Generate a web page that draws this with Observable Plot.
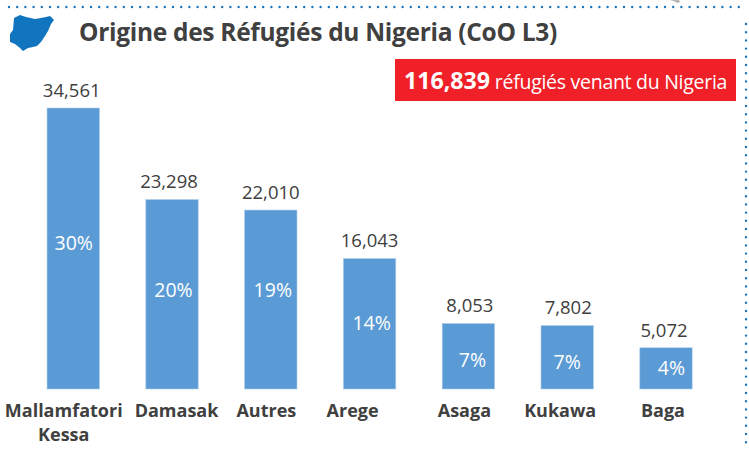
<!DOCTYPE html>
<html lang="fr">
<head>
<meta charset="utf-8">
<script src="https://cdn.jsdelivr.net/npm/d3@7"></script>
<script src="https://cdn.jsdelivr.net/npm/@observablehq/plot@0.6"></script>
<style>
  html, body { margin: 0; padding: 0; background: #fff; }
  #wrap { position: relative; width: 749px; height: 450px; overflow: hidden; font-family: "Open Sans", sans-serif; }
  #title { position: absolute; left: 79px; top: 15px; font-size: 24.5px; font-weight: 700; color: #404040; white-space: nowrap; letter-spacing: -0.3px; }
  #badge { position: absolute; left: 395px; top: 59px; width: 341px; height: 42px; background: #ef2027; color: #fff; font-size: 19.5px; line-height: 42px; text-align: center; white-space: nowrap; letter-spacing: -0.28px; }
  #badge b { font-size: 23.2px; letter-spacing: 0; }
  #deco { position: absolute; left: 0; top: 0; pointer-events: none; }
  #plot { position: absolute; left: 0; top: 0; }
  #plot svg { display: block; }
</style>
</head>
<body>
<div id="wrap">
  <div id="plot"></div>
  <svg id="deco" width="749" height="450">
    <line x1="9" y1="7" x2="745" y2="7" stroke="#1b75bc" stroke-width="2.4" stroke-linecap="round" stroke-dasharray="0 8.2"/>
    <line x1="746" y1="24" x2="746" y2="450" stroke="#1b75bc" stroke-width="2.4" stroke-linecap="round" stroke-dasharray="0 8.2"/>
    <path d="M670 0 Q675 1 677 3 L680 2 L679 0 Z" fill="#b5b5b5"/>
    <path d="M14 18 L20 15 L26 17 L35 19 L41 18 L46 17 L50 16 L54 20 L51 24 L48 31 L45 36 L41 42 L37 46 L33 47 L28 48 L23 51 L20 48 L15 44 L10 42 L10 34 L13 30 Z" fill="#1174bf"/>
  </svg>
  <div id="title">Origine des Réfugiés du Nigeria (CoO L3)</div>
  <div id="badge"><b>116,839</b> réfugiés venant du Nigeria</div>
</div>
<script>
const categories = ["Mallamfatori\nKessa", "Damasak", "Autres", "Arege", "Asaga", "Kukawa", "Baga"];
const refugees = [34561, 23298, 22010, 16043, 8053, 7802, 5072];
const shares = ["30%", "20%", "19%", "14%", "7%", "7%", "4%"];

const rows = categories.map((category, i) => ({category, refugees: refugees[i], share: shares[i]}));

// Visual nudges of the hand-placed labels in the original layout
const labelDx = [-10, 4, -5, -17.5, -4.5, -7.5, -3.5];
const shareDx = [0, 1, 1.5, 1.5, 3.5, -0.5, 5];
const shareDy = [-5, -4.5, -9, -1, 4, 5, 0];
const valueDx = [-2, -3.5, -0.5, -0.5, 1, 0.5, -2.5];

const font = "Open Sans";
const marks = [
  Plot.barY(rows, {x: "category", y: "refugees", fill: "#5b9bd5", stroke: "#a9cbea", strokeWidth: 0.6})
];
rows.forEach((row, i) => {
  marks.push(
    Plot.text([row], {x: "category", y: "refugees", text: d => d3.format(",")(d.refugees),
      dx: valueDx[i], dy: -17.5, fontSize: 18.5, fill: "#404040", fontFamily: font}),
    Plot.text([row], {x: "category", y: d => d.refugees / 2, text: "share", dx: shareDx[i], dy: shareDy[i],
      fontSize: 19.5, fill: "#fff", fontFamily: font}),
    Plot.text([row], {x: "category", y: 0, text: "category", dx: labelDx[i], dy: 10, lineAnchor: "top",
      lineHeight: 1.36, fontSize: 18, fontWeight: 700, fill: "#404040", fontFamily: font})
  );
});

const chart = Plot.plot({
  width: 749,
  height: 450,
  margin: 0,
  style: {background: "transparent", overflow: "visible"},
  x: {domain: categories, range: [0.6, 738.6], padding: 0.47, round: false, axis: null},
  y: {domain: [0, 34561], range: [389, 108], axis: null},
  marks
});
document.getElementById("plot").appendChild(chart);
</script>
</body>
</html>
